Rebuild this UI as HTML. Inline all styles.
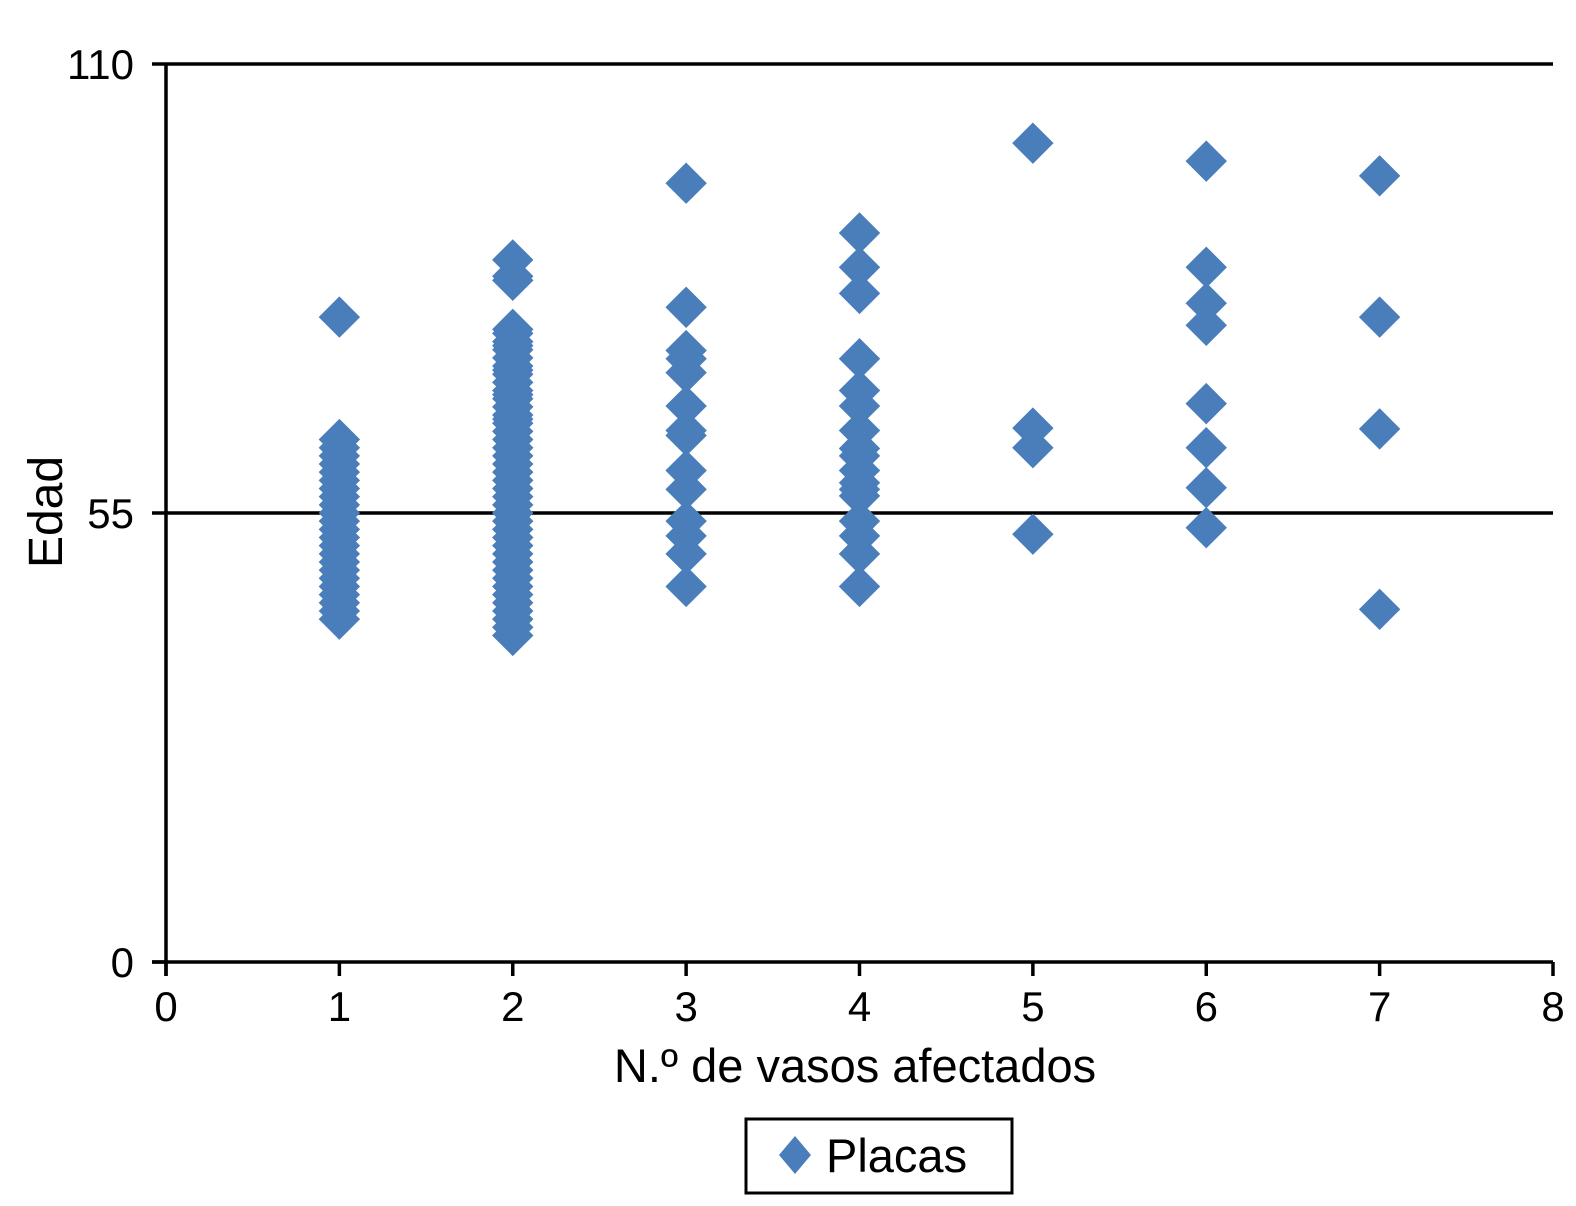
<!DOCTYPE html>
<html><head><meta charset="utf-8"><style>
body{margin:0;background:#fff;}
svg text{font-family:"Liberation Sans",Arial,sans-serif;fill:#000;}
</style></head><body>
<svg width="1576" height="1201" viewBox="0 0 1576 1201" xmlns="http://www.w3.org/2000/svg">
<g id="grid"></g><g id="axes"></g><g id="points"></g><g id="labels"></g>
<g>
<rect x="746" y="1119" width="266" height="74" fill="#fff" stroke="#000" stroke-width="3"/>
<path d="M795 1136 L811 1155 L795 1174 L779 1155 Z" fill="#4a7ebb"/>
<text x="826" y="1172" font-size="47">Placas</text>
</g>
<text x="855" y="1082" font-size="47" text-anchor="middle">N.º de vasos afectados</text>
<text transform="translate(62,512) rotate(-90)" font-size="48" text-anchor="middle">Edad</text>
</svg>
<script>
const ages1=[79,64,63,62,61,60,59,58,57,56,55,54,53,52,51,50,49,48,47,46,45,44,43,42];
const ages2=[86,84,83.5,77.5,77,76,75.5,75,74,73,72.5,72,71,70,69.5,69,68,67,66.5,66,65,64,63,62,61,60,59,58,57,56,55,54,53,52,51,50,49,48,47,46,45,44,43,42,41,40];
const ages3=[95.4,80.2,74.9,73.9,72.2,68.1,65.1,64.5,60.2,57.9,54,52.2,50,46];
const ages4=[89.3,85.1,81.9,73.9,70,68.1,65.1,62.9,62,60.2,58.7,57.9,57.1,54,52.2,50,46];
const ages5=[100.3,65.4,63,52.4];
const ages6=[98.1,85.1,80.7,78,68.4,63,58.1,53.2];
const ages7=[96.3,79,65.3,43.2];
const categories=[1,2,3,4,5,6,7];
const xTicks=[0,1,2,3,4,5,6,7,8];
const yTicks=[0,55,110];
const series=[ages1,ages2,ages3,ages4,ages5,ages6,ages7];
const NS='http://www.w3.org/2000/svg';
const X0=166,X1=1553,Y0=962,Y1=64;
const sx=v=>X0+(X1-X0)*v/8, sy=v=>Y0-(Y0-Y1)*v/110;
function mk(tag,attrs,parent){const e=document.createElementNS(NS,tag);for(const k in attrs)e.setAttribute(k,attrs[k]);document.getElementById(parent).appendChild(e);return e;}
yTicks.forEach(t=>{
 if(t>0){const g=mk('line',{x1:X0,x2:X1,y1:sy(t),y2:sy(t),stroke:'#000','stroke-width':3.5},'grid');
 
 }
 const tk=mk('line',{x1:X0-14,x2:X0,y1:sy(t),y2:sy(t),stroke:'#000','stroke-width':3.5},'axes');
 
 
 const l=mk('text',{x:134,y:sy(t)+15,'font-size':42,'text-anchor':'end'},'labels');l.textContent=t;
 
 
});
xTicks.forEach(t=>{
 const tk=mk('line',{x1:sx(t),x2:sx(t),y1:Y0,y2:Y0+14,stroke:'#000','stroke-width':3.5},'axes');
 
 
 const l=mk('text',{x:sx(t),y:1021,'font-size':42,'text-anchor':'middle'},'labels');l.textContent=t;
 
 
});
const ya=mk('line',{x1:X0,x2:X0,y1:Y1,y2:Y0+14,stroke:'#000','stroke-width':3.5},'axes');


const xa=mk('line',{x1:X0-14,x2:X1,y1:Y0,y2:Y0,stroke:'#000','stroke-width':3.5},'axes');


series.forEach((arr,si)=>{
 const c=categories[si];
 arr.forEach(a=>{
  const cx=sx(c),cy=sy(a);
  const p=mk('path',{d:`M${cx} ${cy-20} L${cx+20} ${cy} L${cx} ${cy+20} L${cx-20} ${cy} Z`,fill:'#4a7ebb',stroke:'#4a7ebb','stroke-width':1},'points');
  
  
 });
});
</script>
</body></html>
